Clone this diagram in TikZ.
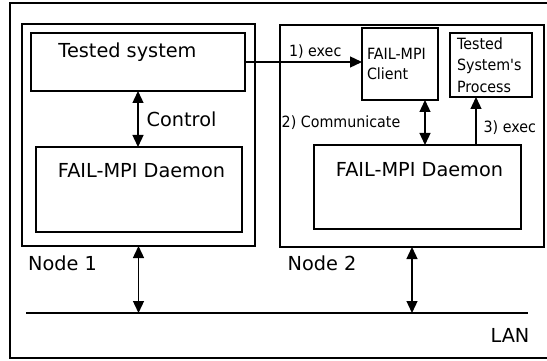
\documentclass[tikz,border=0pt]{standalone}
\usepackage{fontspec}
\setmainfont{DejaVu Sans}
\newfontfamily\narrowfam[FakeStretch=0.92]{DejaVu Sans}
\usepackage{tikz}
\usetikzlibrary{positioning, arrows.meta}
\newcommand{\bigtxt}{\fontsize{19.3}{23}\selectfont}
\newcommand{\smalltxt}{\narrowfam\fontsize{15.5}{21.5}\selectfont}

\begin{document}
\begin{tikzpicture}[x=1pt, y=-1pt, line width=1.3pt,
    >={Triangle[length=12pt,width=11pt]},
    box/.style={rectangle, draw, anchor=north west, inner sep=0pt, outer sep=0pt},
    lbl/.style={font=\bigtxt, inner sep=0pt},
    slbl/.style={font=\smalltxt, inner sep=0pt}]
    \useasboundingbox (0,0) rectangle (547,361);
    \node (frame)   at (10,3)    [box, minimum width=550pt, minimum height=355pt] {};
    \node (node1)   at (22,24)   [box, minimum width=233pt, minimum height=222pt] {};
    \node (node2)   at (280,25)  [box, minimum width=264pt, minimum height=222pt] {};
    \node (tested)  at (31,33)   [box, minimum width=214pt, minimum height=58pt] {};
    \node (daemon1) at (36,147)  [box, minimum width=206pt, minimum height=85pt] {};
    \node (daemon2) at (314,145) [box, minimum width=207pt, minimum height=84pt] {};
    \node (client)  at (362,28)  [box, minimum width=76pt, minimum height=72pt, font=\smalltxt,
                                  align=left, text width=66pt, inner xsep=5pt] {FAIL-MPI\\[-1.5pt]Client};
    \node (process) at (450,33)  [box, minimum width=82pt, minimum height=64pt, font=\smalltxt,
                                  align=left, text width=68pt, inner xsep=7pt] {Tested\\System's\\Process};
    \node (testedtxt)  at (127.5,52) [lbl] {Tested system};
    \node (daemon1txt) at (141.5,171) [lbl] {FAIL-MPI Daemon};
    \node (daemon2txt) at (419.5,170) [lbl] {FAIL-MPI Daemon};
    \node (node1txt)   at (62.5,263) [lbl] {Node 1};
    \node (node2txt)   at (322,263)  [lbl] {Node 2};
    \node (lantxt)     at (510,335)  [lbl] {LAN};
    \coordinate (lanL) at (26,313);
    \coordinate (lanR) at (528,313);
    \draw (lanL) -- (lanR);
    \draw[<->] (tested.south) -- node[lbl, right=8pt]{Control} (tested.south |- daemon1.north);
    \draw[->] (tested.east) -- node[slbl, pos=0.6, above=3pt]{1) exec} (tested.east -| client.west);
    \draw[<->] ([xshift=25pt]client.south) -- node[slbl, left=24pt]{2) Communicate} ([xshift=25pt]client.south |- daemon2.north);
    \draw[->] ([xshift=-15pt]process.south |- daemon2.north) -- node[slbl, pos=0.37, right=7pt]{3) exec} ([xshift=-15pt]process.south);
    \draw[<->] (node1.south) -- (node1.south |- lanL);
    \draw[<->] (node2.south) -- (node2.south |- lanL);
\end{tikzpicture}
\end{document}
